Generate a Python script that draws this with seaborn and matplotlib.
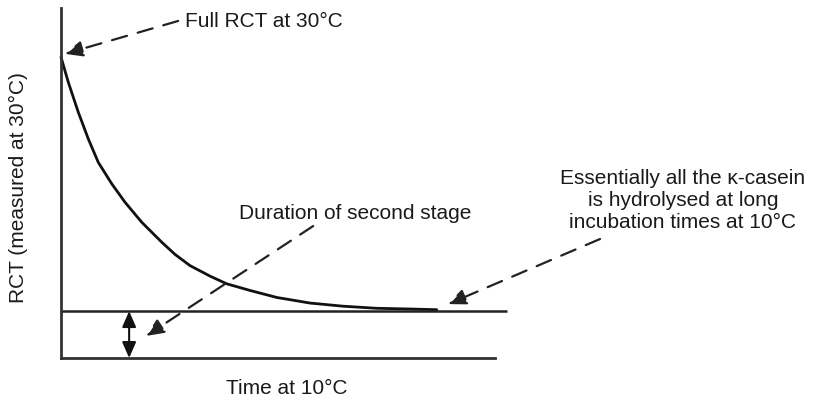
import matplotlib
matplotlib.use("Agg")
import matplotlib.pyplot as plt
import seaborn as sns
import pandas as pd

# Schematic decay of rennet coagulation time during cold incubation
time_at_10c = [0.0, 0.168, 0.399, 0.629, 0.859, 1.168, 1.475, 1.859, 2.320,
               2.627, 2.972, 3.433, 3.818, 4.355, 4.970, 5.737, 6.498, 7.274,
               8.041, 8.657]
rct_at_30c = [8.60, 7.88, 7.02, 6.26, 5.59, 4.98, 4.45, 3.88, 3.31,
              2.96, 2.64, 2.34, 2.12, 1.93, 1.73, 1.57, 1.48, 1.42,
              1.40, 1.38]
plateau_rct = 1.34
plateau_end = 10.28
double_arrow_time = 1.57

curve = pd.DataFrame({"time": time_at_10c, "rct": rct_at_30c})

sns.set_theme(style="white")
plt.rcParams["font.family"] = ["Liberation Sans", "DejaVu Sans"]

fig = plt.figure(figsize=(8.14, 4.02), dpi=100)
ax = fig.add_axes([61 / 814, 43 / 402, 434 / 814, 350 / 402])

sns.lineplot(data=curve, x="time", y="rct", ax=ax, color="#111111",
             linewidth=2.0, clip_on=False)

# long-time plateau
ax.plot([0, plateau_end], [plateau_rct, plateau_rct], color="#222222",
        linewidth=1.8, clip_on=False, solid_capstyle="butt")

ax.set_xlim(0, 10)
ax.set_ylim(0, 10)
ax.set_xticks([])
ax.set_yticks([])
ax.set_xlabel("")
ax.set_ylabel("")
for side in ("top", "right"):
    ax.spines[side].set_visible(False)
for side in ("left", "bottom"):
    ax.spines[side].set_color("#333333")
    ax.spines[side].set_linewidth(2.0)

text_kw = dict(fontsize=15, color="#1a1a1a")

# double-headed arrow marking the RCT drop to the plateau
ax.annotate("", xy=(double_arrow_time, 0.0), xytext=(double_arrow_time, plateau_rct),
            arrowprops=dict(arrowstyle="<|-|>,head_length=0.8,head_width=0.35",
                            color="#111111", lw=1.5, shrinkA=0, shrinkB=0),
            annotation_clip=False)

dashed = dict(arrowstyle="-|>,head_length=0.9,head_width=0.4",
              color="#222222", lw=1.6, linestyle=(0, (7, 5)),
              shrinkA=0, shrinkB=0)

ax.annotate("", xy=(0.09, 8.69), xytext=(2.70, 9.63),
            arrowprops=dashed, annotation_clip=False)
ax.text(2.86, 9.63, "Full RCT at 30°C", ha="left", va="center",
        clip_on=False, **text_kw)

ax.annotate("", xy=(1.96, 0.63), xytext=(5.81, 3.77),
            arrowprops=dashed, annotation_clip=False)
ax.text(6.77, 4.17, "Duration of second stage", ha="center", va="center",
        clip_on=False, **text_kw)

ax.annotate("", xy=(8.92, 1.54), xytext=(12.42, 3.40),
            arrowprops=dashed, annotation_clip=False)
ax.text(14.33, 4.54,
        "Essentially all the κ-casein\nis hydrolysed at long\nincubation times at 10°C",
        ha="center", va="center", linespacing=1.2, clip_on=False, **text_kw)

ax.text(5.2, -0.83, "Time at 10°C", ha="center", va="center",
        clip_on=False, **text_kw)
ax.text(-0.99, 4.89, "RCT (measured at 30°C)", ha="center", va="center",
        rotation=90, clip_on=False, **text_kw)

fig.savefig("out.png", dpi=100, facecolor="white")
